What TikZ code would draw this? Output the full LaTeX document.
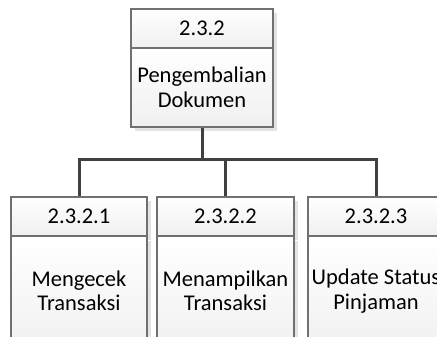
\documentclass[tikz,border=0pt]{standalone}
\usepackage{fontspec}
\setmainfont{Carlito}
\usetikzlibrary{shadows}
\definecolor{edgegray}{HTML}{707070}
\definecolor{conngray}{HTML}{404040}
\tikzset{
  boxfont/.style={font=\fontsize{22.5}{24.5}\selectfont, align=center},
  cell/.style={draw=edgegray, line width=1.1pt, top color=white, bottom color=black!6,
    drop shadow={shadow xshift=4pt, shadow yshift=-4pt, fill=black!11, opacity=1},
    inner sep=0pt, boxfont},
  conn/.style={draw=conngray, line width=3pt, line join=miter}
}
\begin{document}
\begin{tikzpicture}[x=1pt,y=-1pt]
\useasboundingbox (0,0) rectangle (437,337);
\clip (0,0) rectangle (437,337);
\fill[white] (0,0) rectangle (437,337);

% parent process
\node[cell, minimum width=142pt, minimum height=39pt] (p232h) at (202,28.5) {2.3.2};
\node[cell, minimum width=142pt, minimum height=79pt] (p232b) at (202,87.5) {Pengembalian\\Dokumen};

% sub-processes
\node[cell, minimum width=136pt, minimum height=39pt] (c1h) at (79,216.5) {2.3.2.1};
\node[cell, minimum width=136pt, minimum height=120pt, anchor=north] (c1b) at (79,236) {};
\node[boxfont] (c1t) at (79,291) {Mengecek\\Transaksi};

\node[cell, minimum width=137pt, minimum height=39pt] (c2h) at (225.5,216.5) {2.3.2.2};
\node[cell, minimum width=137pt, minimum height=120pt, anchor=north] (c2b) at (225.5,236) {};
\node[boxfont] (c2t) at (225.5,291) {Menampilkan\\Transaksi};

\node[cell, minimum width=136pt, minimum height=39pt] (c3h) at (376,216.5) {2.3.2.3};
\node[cell, minimum width=136pt, minimum height=120pt, anchor=north] (c3b) at (376,236) {};
\node[boxfont] (c3t) at (376,291) {Update Status\\Pinjaman};

% connectors
\coordinate (bus) at (0,159);
\draw[conn] (p232b.south) -- (p232b.south |- bus);
\draw[conn] (c1h.north) -- (c1h.north |- bus) -- (c3h.north |- bus) -- (c3h.north);
\draw[conn] (c2h.north) -- (c2h.north |- bus);
\end{tikzpicture}
\end{document}
